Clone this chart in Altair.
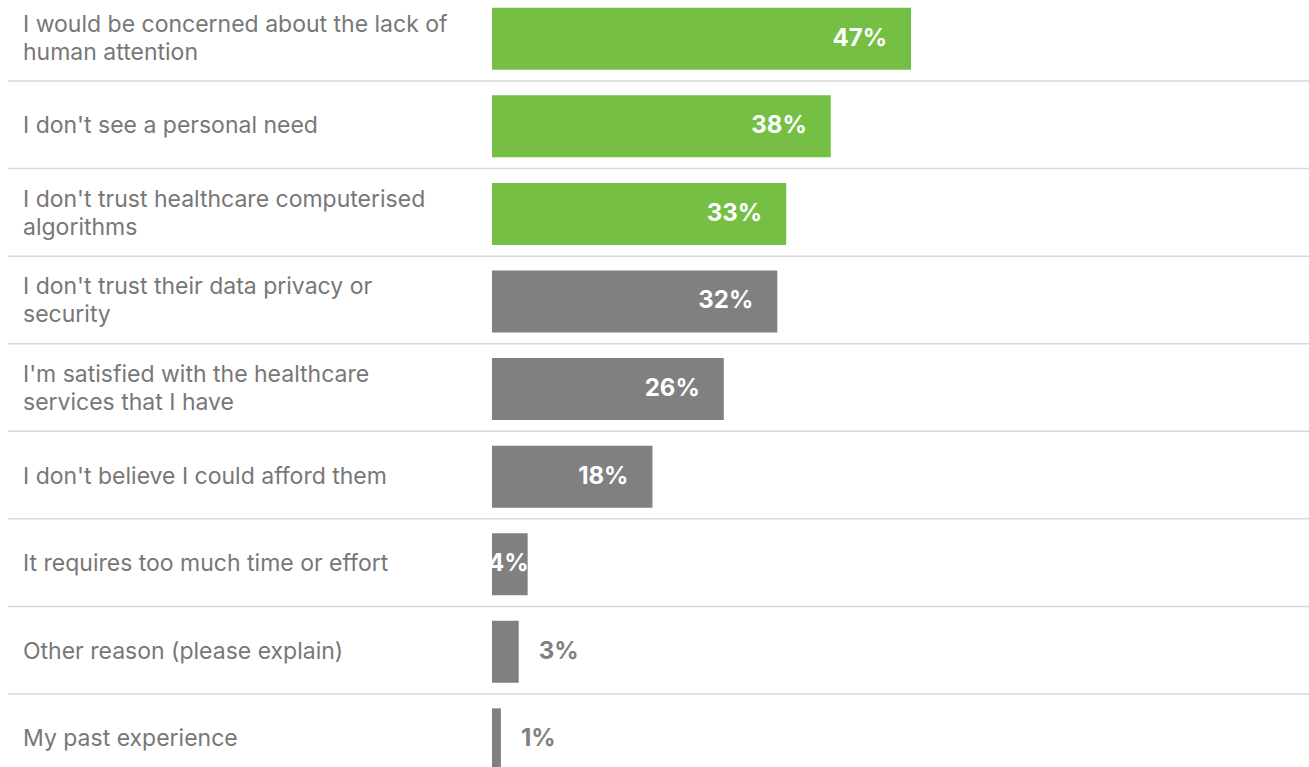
import altair as alt
import pandas as pd

labels = [
    "I would be concerned about the lack of\nhuman attention",
    "I don't see a personal need",
    "I don't trust healthcare computerised\nalgorithms",
    "I don't trust their data privacy or\nsecurity",
    "I'm satisfied with the healthcare\nservices that I have",
    "I don't believe I could afford them",
    "It requires too much time or effort",
    "Other reason (please explain)",
    "My past experience",
]
values = [47, 38, 33, 32, 26, 18, 4, 3, 1]
highlight = [True, True, True, False, False, False, False, False, False]

GREEN = "#74bf44"
GRAY = "#808080"
TEXT = "#777777"

df = pd.DataFrame({"label": labels, "value": values, "hl": highlight})
df["pos"] = range(len(df))
df["mid"] = df["pos"] + 0.018
df["lo"] = df["mid"] - 0.354
df["hi"] = df["mid"] + 0.354
df["sep"] = df["pos"] + 0.5
df["pct"] = df["value"].astype(str) + "%"
df["color"] = [GREEN if h else GRAY for h in df["hl"]]
df["kind"] = ["in" if v >= 10 else ("edge" if v >= 4 else "out") for v in values]
df["lines"] = [l.count("\n") + 1 for l in labels]

FONT = "Inter"
xs = alt.Scale(domain=[0, 91.64], nice=False, zero=False)
ys = alt.Scale(domain=[-0.425, 8.334], reverse=True, nice=False, zero=False)

base = alt.Chart(df)

bars = base.mark_bar().encode(
    x=alt.X("value:Q", scale=xs, axis=None),
    x2=alt.value(0),
    y=alt.Y("lo:Q", scale=ys, axis=None),
    y2="hi:Q",
    color=alt.Color("color:N", scale=None),
)

seps = base.transform_filter("datum.pos < 8").mark_rule(color="#d9d9d9", strokeWidth=1.5).encode(
    y=alt.Y("sep:Q", scale=ys, axis=None),
    x=alt.value(-484),
    x2=alt.value(817),
)

cat_style = dict(align="left", baseline="middle", font=FONT, fontSize=23, color=TEXT, lineHeight=28)

cat_text1 = base.transform_filter("datum.lines == 1").mark_text(**cat_style).encode(
    y=alt.Y("mid:Q", scale=ys, axis=None),
    x=alt.value(-469),
    text="label:N",
)

cat_text2 = base.transform_filter("datum.lines == 2").mark_text(dy=-14, **cat_style).encode(
    y=alt.Y("mid:Q", scale=ys, axis=None),
    x=alt.value(-469),
    text="label:N",
)

pct_style = dict(baseline="middle", font=FONT, fontSize=24, fontWeight="bold")

in_text = base.transform_filter("datum.kind == 'in'").mark_text(
    align="right", color="white", dx=-24, **pct_style
).encode(
    x=alt.X("value:Q", scale=xs, axis=None),
    y=alt.Y("mid:Q", scale=ys, axis=None),
    text="pct:N",
)

edge_text = base.transform_filter("datum.kind == 'edge'").mark_text(
    align="right", color="white", dx=1, **pct_style
).encode(
    x=alt.X("value:Q", scale=xs, axis=None),
    y=alt.Y("mid:Q", scale=ys, axis=None),
    text="pct:N",
)

out_text = base.transform_filter("datum.kind == 'out'").mark_text(
    align="left", color=GRAY, dx=20, **pct_style
).encode(
    x=alt.X("value:Q", scale=xs, axis=None),
    y=alt.Y("mid:Q", scale=ys, axis=None),
    text="pct:N",
)

chart = alt.layer(seps, bars, cat_text1, cat_text2, in_text, edge_text, out_text).properties(
    width=817,
    height=767,
    padding={"left": 492, "top": 0, "right": 0, "bottom": 0},
    autosize=alt.AutoSizeParams(type="none"),
).configure(
    lineBreak="\n", background="white", view=alt.ViewConfig(stroke=None)
)

chart.save("out.html", embed_options={"renderer": "svg", "actions": False})
